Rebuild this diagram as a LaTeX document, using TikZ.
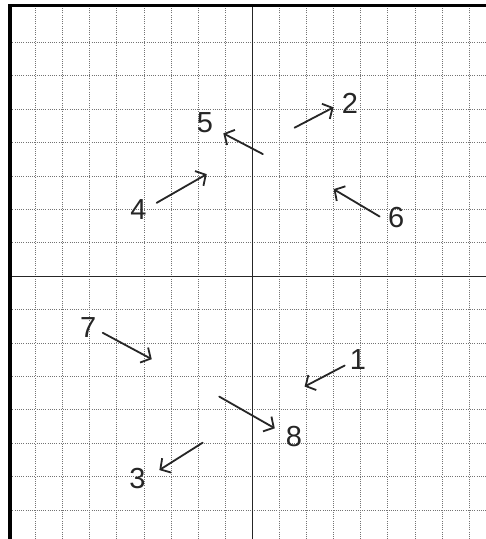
\documentclass[tikz,border=0pt]{standalone}
\usepackage{fontspec}
\setmainfont{Liberation Sans}
\usetikzlibrary{arrows.meta}
\tikzset{
  gridline/.style={draw=black!55, line width=0.6pt, dash pattern=on 0.9pt off 1.3pt},
  axisline/.style={draw=black!85, line width=1pt},
  border/.style={draw=black, line width=3.2pt},
  vec/.style={draw=black!85, line width=1.8pt, line cap=round,
    -{Straight Barb[length=7.5pt,width=17pt,line width=1.8pt]}},
  lab/.style={text=black!85, font=\fontsize{29}{29}\selectfont, inner sep=0pt}
}
\begin{document}
\begin{tikzpicture}[x=27.1pt,y=33.4pt]
\useasboundingbox[fill=white] (-252.3pt,-263pt) rectangle (233.7pt,276pt);
% grid
\foreach \i in {-8,...,8} \draw[gridline] (\i,-263pt) -- (\i,271pt);
\foreach \j in {-7,...,7} \draw[gridline] (-242pt,\j) -- (233.7pt,\j);
% axes
\draw[axisline] (0,-263pt) -- (0,271pt);
\draw[axisline] (-242pt,0) -- (233.7pt,0);
% border
\draw[border] (-242.3pt,-263pt) -- (-242.3pt,270.5pt) -- (233.7pt,270.5pt);
% vectors
\coordinate (t1) at (3.41,-2.68); \coordinate (h1) at (1.93,-3.31);
\coordinate (t2) at (1.56,4.44);  \coordinate (h2) at (3.0,5.05);
\coordinate (t3) at (-1.83,-4.99); \coordinate (h3) at (-3.43,-5.81);
\coordinate (t4) at (-3.53,2.19); \coordinate (h4) at (-1.68,3.05);
\coordinate (t5) at (0.39,3.65); \coordinate (h5) at (-1.07,4.27);
\coordinate (t6) at (4.70,1.78); \coordinate (h6) at (3.0,2.60);
\coordinate (t7) at (-5.52,-1.70); \coordinate (h7) at (-3.71,-2.49);
\coordinate (t8) at (-1.22,-3.61); \coordinate (h8) at (0.83,-4.56);
\foreach \k in {1,...,8} \draw[vec] (t\k) -- (h\k);
% labels
\node[lab] (l1) at (3.9,-2.51) {1};
\node[lab] (l2) at (3.6,5.16) {2};
\node[lab] (l3) at (-4.24,-6.06) {3};
\node[lab] (l4) at (-4.2,1.98) {4};
\node[lab] (l5) at (-1.75,4.58) {5};
\node[lab] (l6) at (5.31,1.74) {6};
\node[lab] (l7) at (-6.06,-1.53) {7};
\node[lab] (l8) at (1.54,-4.82) {8};
\end{tikzpicture}
\end{document}
